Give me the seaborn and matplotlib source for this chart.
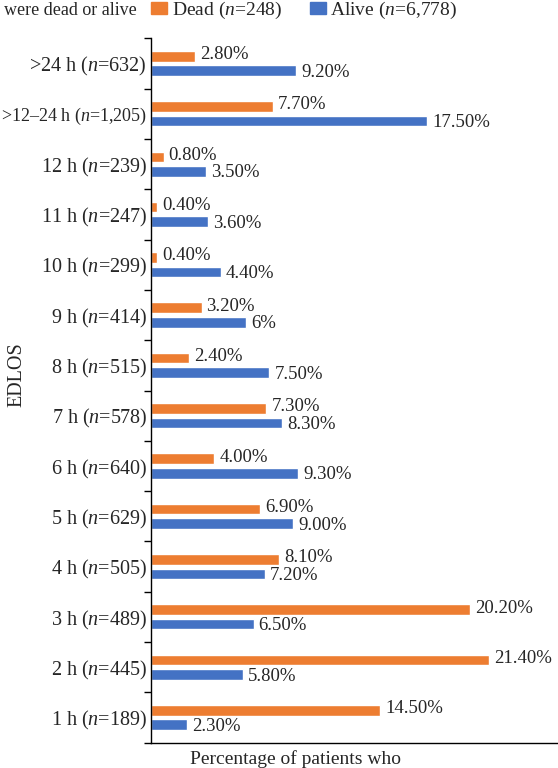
#import required libraries
import numpy as np
import pandas as pd
import matplotlib.pyplot as plt
from matplotlib.patches import Patch
import seaborn as sns

#categories from top to bottom
categories = ['>24 h ($n$=632)', '>12–24 h ($n$=1,205)', '12 h ($n$=239)', '11 h ($n$=247)',
              '10 h ($n$=299)', '9 h ($n$=414)', '8 h ($n$=515)', '7 h ($n$=578)',
              '6 h ($n$=640)', '5 h ($n$=629)', '4 h ($n$=505)', '3 h ($n$=489)',
              '2 h ($n$=445)', '1 h ($n$=189)']
dead = [2.8, 7.7, 0.8, 0.4, 0.4, 3.2, 2.4, 7.3, 4.0, 6.9, 8.1, 20.2, 21.4, 14.5]
alive = [9.2, 17.5, 3.5, 3.6, 4.4, 6.0, 7.5, 8.3, 9.3, 9.0, 7.2, 6.5, 5.8, 2.3]
dead_labels = ['2.80%', '7.70%', '0.80%', '0.40%', '0.40%', '3.20%', '2.40%', '7.30%',
               '4.00%', '6.90%', '8.10%', '20.20%', '21.40%', '14.50%']
alive_labels = ['9.20%', '17.50%', '3.50%', '3.60%', '4.40%', '6%', '7.50%', '8.30%',
                '9.30%', '9.00%', '7.20%', '6.50%', '5.80%', '2.30%']
groups = ['Dead ($n$=248)', 'Alive ($n$=6,778)']

#long format table for seaborn
df = pd.DataFrame({'EDLOS': categories * 2,
                   'value': dead + alive,
                   'group': [groups[0]] * len(dead) + [groups[1]] * len(alive)})

sns.set_style('white')
plt.rcParams['font.family'] = ['Liberation Serif']
plt.rcParams['mathtext.fontset'] = 'custom'
plt.rcParams['mathtext.it'] = 'Liberation Serif:italic'
plt.rcParams['mathtext.rm'] = 'Liberation Serif'

colors = ['#ED7D31', '#4472C4']

fig = plt.figure(figsize=(5.58, 7.68), dpi=100)
ax = fig.add_axes([151/558, 25.3/768, 1 - 151/558, 704.4/768])

#plot the figure
sns.barplot(data=df, x='value', y='EDLOS', hue='group', hue_order=groups,
            palette=colors, saturation=1, orient='h', width=0.576, gap=0.27,
            ax=ax, legend=False)

#value labels, nudged apart a little so the two rows do not collide
for t in ax.bar_label(ax.containers[0], labels=dead_labels, padding=3.6, fontsize=13.5):
    t.xyann = (3.6, 1.2)
for t in ax.bar_label(ax.containers[1], labels=alive_labels, padding=3.6, fontsize=13.5):
    t.xyann = (3.6, -1.2)

#axes styling
ax.set_xlim(0, 25.76)
ax.set_ylim(13.5, -0.5)
ax.set_xticks([])
ax.set_xlabel('')
ax.set_ylabel('')
ax.set_yticks(np.arange(-0.5, 14, 1), minor=True)
ax.tick_params(axis='y', which='major', length=0, labelsize=14.5, pad=3)
ax.tick_params(axis='y', which='minor', length=5, width=1, color='black', left=True)
ax.get_yticklabels()[1].set_fontsize(13)
for s in ['top', 'right']:
    ax.spines[s].set_visible(False)
for s in ['left', 'bottom']:
    ax.spines[s].set_color('black')
    ax.spines[s].set_linewidth(1)

#legend and the split axis title
handles = [Patch(color=colors[0], label=groups[0]), Patch(color=colors[1], label=groups[1])]
fig.legend(handles=handles, loc='center left', bbox_to_anchor=(151/558, 1 - 10.5/768),
           ncol=2, frameon=False, fontsize=14, borderpad=0, borderaxespad=0,
           handlelength=0.82, handleheight=0.62, handletextpad=0.24, columnspacing=1.44)
fig.text(137/558, 1 - 10.5/768, 'were dead or alive', ha='right', va='center', fontsize=13)
fig.text(295/558, 1 - 759/768, 'Percentage of patients who', ha='center', va='center', fontsize=14)
fig.text(17/558, 1 - 375/768, 'EDLOS', ha='center', va='center', rotation=90, fontsize=14.5)

plt.savefig('out.png', dpi=100)
